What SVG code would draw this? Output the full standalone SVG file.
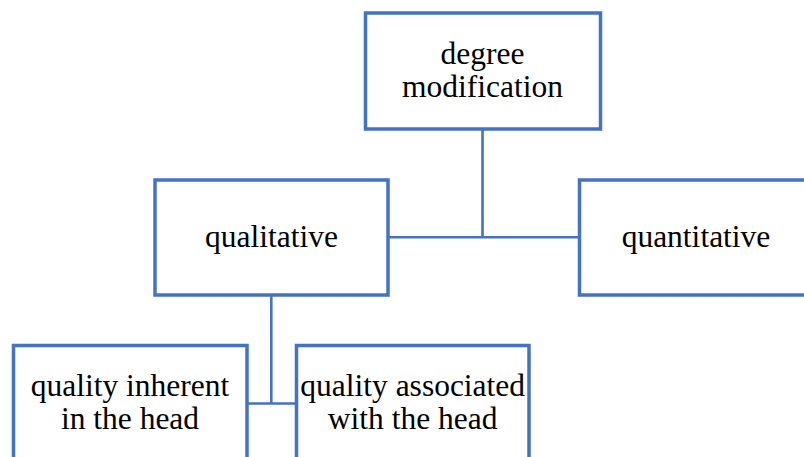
<svg xmlns="http://www.w3.org/2000/svg" width="804" height="457" viewBox="0 0 804 457">
  <style>
    .box { fill: #ffffff; stroke: #4472C4; stroke-width: 3.5; }
    .link { fill: none; stroke: #4472C4; stroke-width: 2.6; }
    .label { font-family: "Liberation Serif", "Times New Roman", serif; font-size: 31.5px; fill: #000000; text-anchor: middle; }
  </style>
  <rect width="804" height="457" fill="#ffffff"/>

  <!-- tree connectors -->
  <g id="connectors">
    <path class="link" d="M482.5 129 V237.3 M388 237.3 H579"/>
    <path class="link" d="M271.3 295 V403.5 M247 403.5 H296.5"/>
  </g>

  <g id="degree-modification">
    <rect class="box" x="365.5" y="13" width="235" height="116"/>
    <text class="label" x="482.5" y="64.3">degree</text>
    <text class="label" x="482.5" y="96.7">modification</text>
  </g>

  <g id="qualitative">
    <rect class="box" x="155" y="180" width="233" height="115"/>
    <text class="label" x="271.5" y="246.7">qualitative</text>
  </g>

  <g id="quantitative">
    <rect class="box" x="579.5" y="180" width="233" height="115"/>
    <text class="label" x="696" y="246.7">quantitative</text>
  </g>

  <g id="quality-inherent">
    <rect class="box" x="13.5" y="345.5" width="233.5" height="130"/>
    <text class="label" x="130" y="396">quality inherent</text>
    <text class="label" x="130" y="429">in the head</text>
  </g>

  <g id="quality-associated">
    <rect class="box" x="296.5" y="345.5" width="232.5" height="130"/>
    <text class="label" x="412.7" y="396">quality associated</text>
    <text class="label" x="412.7" y="429">with the head</text>
  </g>
</svg>
